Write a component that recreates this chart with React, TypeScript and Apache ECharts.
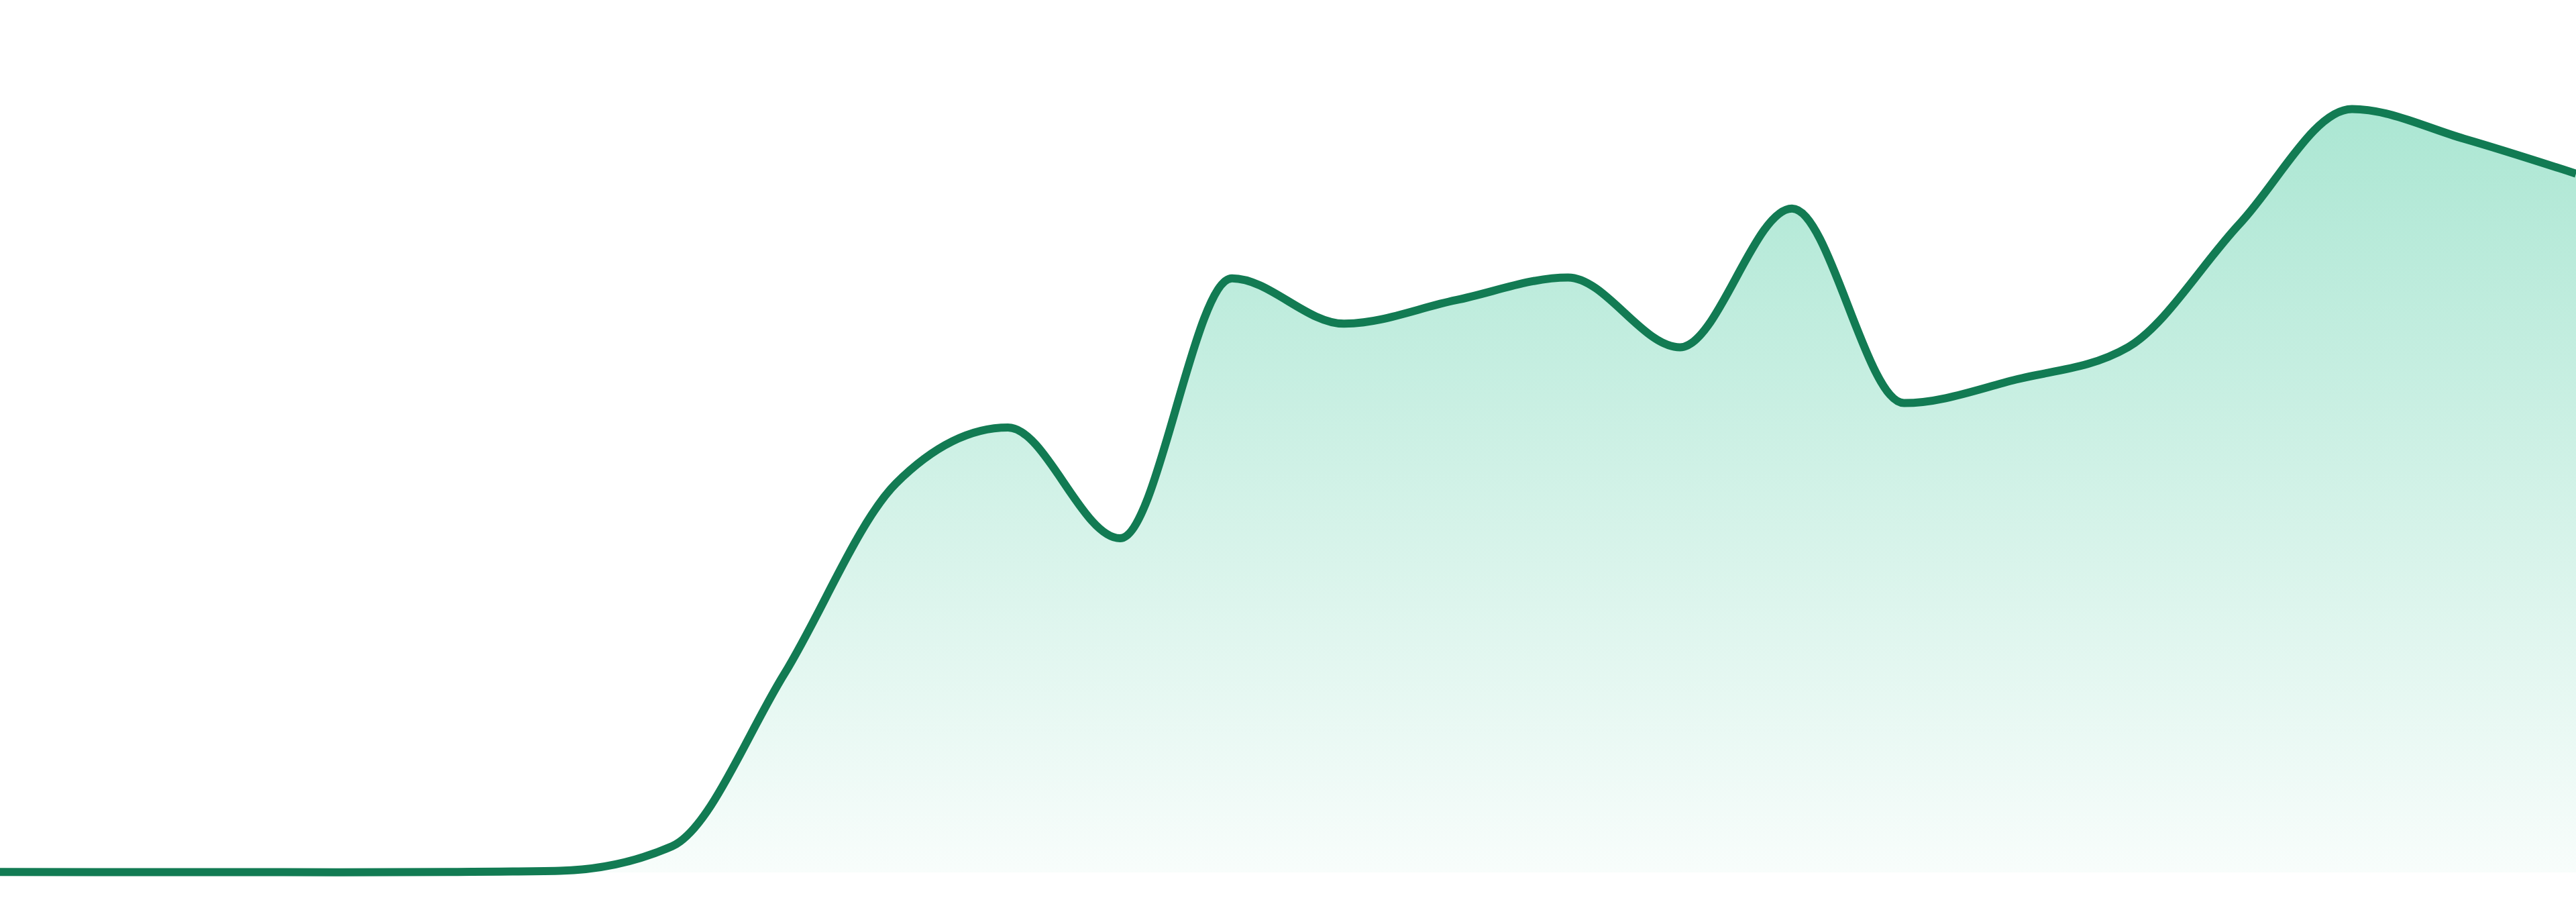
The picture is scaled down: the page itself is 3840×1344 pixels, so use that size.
import { useEffect, useRef } from 'react'
import * as echarts from 'echarts'

// 24 hourly buckets, axes hidden in the reference
const HOURS = [
  '00:00', '01:00', '02:00', '03:00', '04:00', '05:00',
  '06:00', '07:00', '08:00', '09:00', '10:00', '11:00',
  '12:00', '13:00', '14:00', '15:00', '16:00', '17:00',
  '18:00', '19:00', '20:00', '21:00', '22:00', '23:00',
]

const VALUES = [
  0.05, 0.03, 0.04, 0.02, 0.06, 0.2,
  3.0, 22.7, 44.6, 51.0, 38.3, 68.1,
  62.9, 65.6, 68.2, 60.2, 76.1, 53.8,
  56.5, 60.2, 74.4, 87.5, 84.1, 80.1,
]

const LINE = '#127b53'

const sign = (x: number) => (x < 0 ? -1 : 1)

// monotone-x cubic path through pixel points (same maths as d3 curveMonotoneX)
function monotonePath(pts: number[][]) {
  const n = pts.length
  const m: number[] = new Array(n).fill(0)
  for (let i = 1; i < n - 1; i++) {
    const h0 = pts[i][0] - pts[i - 1][0]
    const h1 = pts[i + 1][0] - pts[i][0]
    const s0 = (pts[i][1] - pts[i - 1][1]) / h0
    const s1 = (pts[i + 1][1] - pts[i][1]) / h1
    const p = (s0 * h1 + s1 * h0) / (h0 + h1)
    m[i] = (sign(s0) + sign(s1)) * Math.min(Math.abs(s0), Math.abs(s1), 0.5 * Math.abs(p)) || 0
  }
  const sFirst = (pts[1][1] - pts[0][1]) / (pts[1][0] - pts[0][0])
  const sLast = (pts[n - 1][1] - pts[n - 2][1]) / (pts[n - 1][0] - pts[n - 2][0])
  m[0] = (3 * sFirst - m[1]) / 2
  m[n - 1] = (3 * sLast - m[n - 2]) / 2

  let d = `M${pts[0][0]},${pts[0][1]}`
  for (let i = 0; i < n - 1; i++) {
    const [x0, y0] = pts[i]
    const [x1, y1] = pts[i + 1]
    const dx = (x1 - x0) / 3
    d += `C${x0 + dx},${y0 + dx * m[i]},${x1 - dx},${y1 - dx * m[i + 1]},${x1},${y1}`
  }
  return d
}

export default function App() {
  const ref = useRef<HTMLDivElement>(null)

  useEffect(() => {
    document.body.style.margin = '0'
    if (!ref.current) return
    const chart = echarts.init(ref.current, undefined, { renderer: 'svg' })

    chart.setOption({
      animation: false,
      backgroundColor: '#ffffff',
      grid: { top: 0, bottom: 44, left: 0, right: 0 },
      xAxis: {
        type: 'category',
        data: HOURS,
        boundaryGap: false,
        show: false,
      },
      yAxis: {
        type: 'value',
        min: 0,
        max: 100,
        show: false,
      },
      series: [{
        type: 'custom',
        data: VALUES.map((v, i) => [i, v]),
        clip: false,
        renderItem: (params: any, api: any) => {
          // whole curve is drawn once, from the first item
          if (params.dataIndex !== 0) return null
          const pts = VALUES.map((v, i) => api.coord([i, v]))
          const base = api.coord([0, 0])[1]
          const line = monotonePath(pts)
          const last = pts[pts.length - 1]
          const area = `${line}L${last[0]},${base}L${pts[0][0]},${base}Z`
          return {
            type: 'group',
            children: [
              {
                type: 'path',
                shape: { pathData: area },
                style: {
                  fill: new echarts.graphic.LinearGradient(0, 0, 0, 1, [
                    { offset: 0, color: 'rgba(16,185,129,0.35)' },
                    { offset: 1, color: 'rgba(16,185,129,0.03)' },
                  ]),
                  stroke: 'none',
                },
              },
              {
                type: 'path',
                shape: { pathData: line },
                style: {
                  fill: 'none',
                  stroke: LINE,
                  lineWidth: 12,
                  lineJoin: 'round',
                },
              },
            ],
          }
        },
      }],
    })

    return () => chart.dispose()
  }, [])

  return <div ref={ref} style={{ width: 3840, height: 1344 }} />
}
